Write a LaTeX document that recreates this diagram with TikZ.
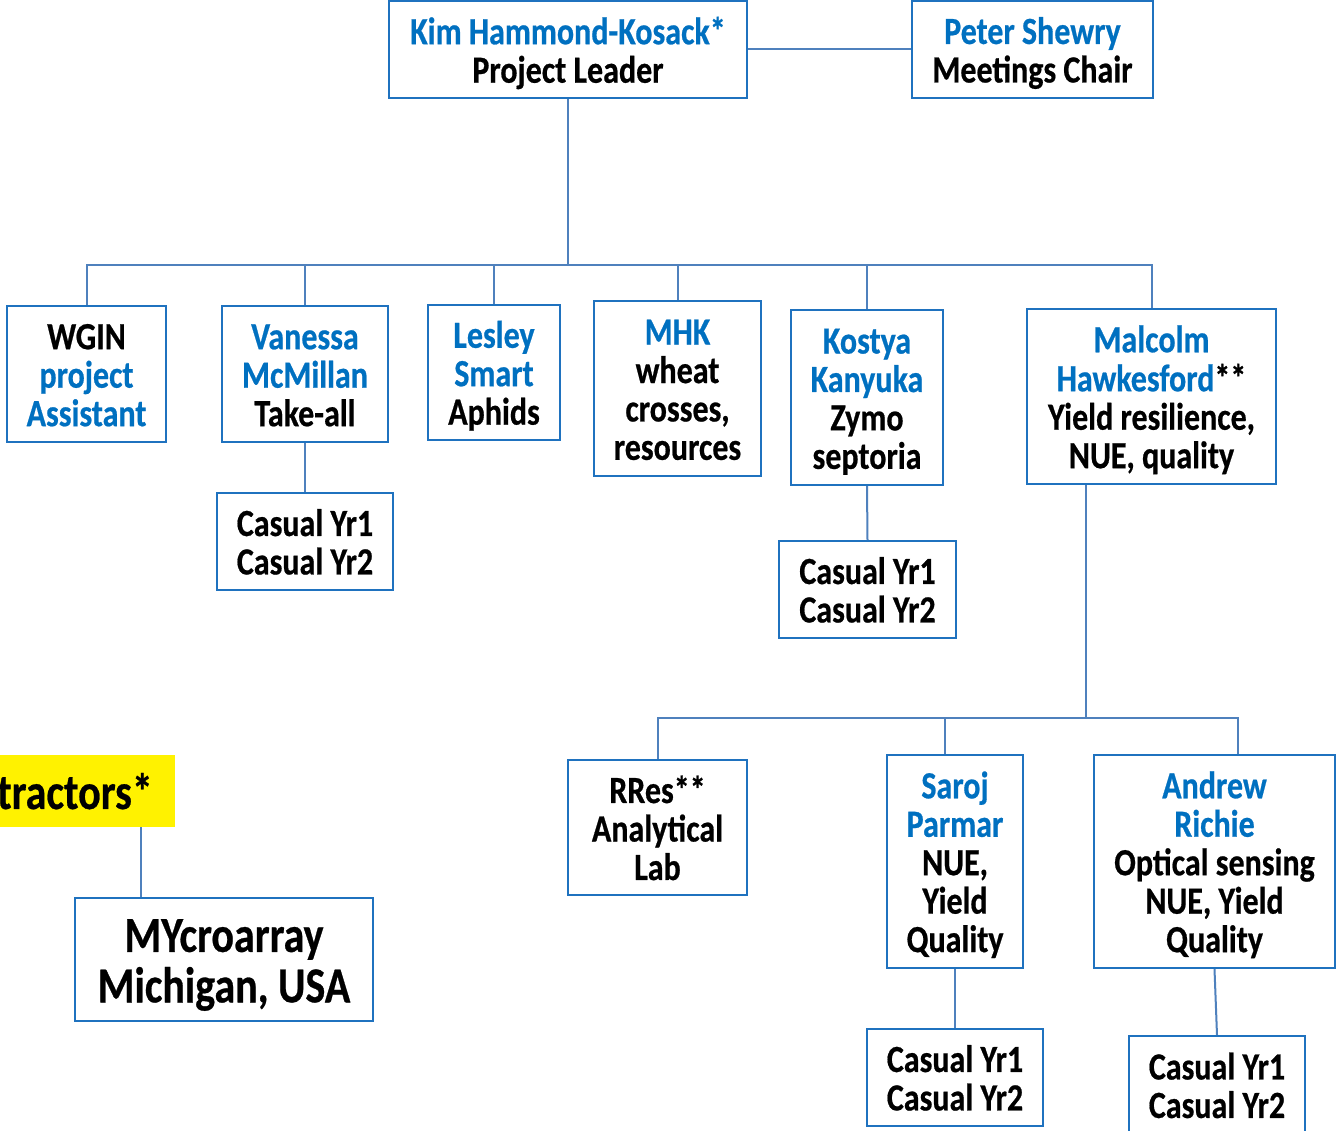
\documentclass[tikz,border=0pt]{standalone}
\usepackage{fontspec}
\usepackage{graphicx}
\setmainfont[BoldFeatures={FakeBold=0.6}]{Carlito}
\definecolor{nameblue}{HTML}{0070C0}
\definecolor{boxblue}{HTML}{1F72BF}
\definecolor{linkblue}{HTML}{4F81BD}
\newcommand{\nm}[1]{\textcolor{nameblue}{#1}}
\newcommand{\tx}[1]{\scalebox{1}[1.2]{\fontsize{24}{24}\selectfont\bfseries\raisebox{0pt}[\dimexpr\height+7.5pt\relax][\depth]{\begin{tabular}{@{}c@{}}#1\end{tabular}}}}
\newcommand{\txbig}[1]{\scalebox{1}[1.2]{\fontsize{31.5}{31.5}\selectfont\bfseries\raisebox{0pt}[\dimexpr\height+9.4pt\relax][\depth]{\begin{tabular}{@{}c@{}}#1\end{tabular}}}}
\tikzset{
  bx/.style 2 args={draw=boxblue, line width=1.5pt, fill=white, inner sep=0pt,
    minimum width=#1*0.75pt, minimum height=#2*0.75pt, text=black},
  link/.style={draw=linkblue, line width=1.5pt}
}
\begin{document}
\begin{tikzpicture}[x=0.75pt,y=-0.75pt]
\useasboundingbox (0,0) rectangle (1336,1131);
\clip (0,0) rectangle (1336,1131);
\fill[white] (0,0) rectangle (1336,1131);

% top row
\node[bx={358}{97}] (khk) at (568,49.5) {\tx{\nm{Kim Hammond-Kosack*}\\Project Leader}};
\node[bx={241}{97}] (peter) at (1032.5,49.5) {\tx{\nm{Peter Shewry}\\Meetings Chair}};

% second row
\node[bx={159}{136}] (wgin) at (86.5,374) {\tx{WGIN\\\nm{project}\\\nm{Assistant}}};
\node[bx={166}{136}] (van) at (305,374) {\tx{\nm{Vanessa}\\\nm{McMillan}\\Take-all}};
\node[bx={132}{135}] (les) at (494,372.5) {\tx{\nm{Lesley}\\\nm{Smart}\\Aphids}};
\node[bx={167}{175}] (mhk) at (677.5,388.5) {\tx{\nm{MHK}\\wheat\\crosses,\\resources}};
\node[bx={152}{175}] (kos) at (867,397.5) {\tx{\nm{Kostya}\\\nm{Kanyuka}\\Zymo\\septoria}};
\node[bx={249}{175}] (mal) at (1151.5,396.5) {\tx{\nm{Malcolm}\\\nm{Hawkesford}**\\Yield resilience,\\NUE, quality}};

% casuals
\node[bx={176}{97}] (vanc) at (305,541.5) {\tx{Casual Yr1\\Casual Yr2}};
\node[bx={177}{97}] (kosc) at (867.5,589.5) {\tx{Casual Yr1\\Casual Yr2}};

% third row
\node[bx={179}{135}] (rres) at (657.5,827.5) {\tx{RRes**\\Analytical\\Lab}};
\node[bx={136}{213}] (sar) at (955,861.5) {\tx{\nm{Saroj}\\\nm{Parmar}\\NUE,\\Yield\\Quality}};
\node[bx={241}{213}] (and) at (1214.5,861.5) {\tx{\nm{Andrew}\\\nm{Richie}\\Optical sensing\\NUE, Yield\\Quality}};
\node[bx={176}{97}] (sarc) at (955,1077.5) {\tx{Casual Yr1\\Casual Yr2}};
\node[bx={176}{98}] (andc) at (1217,1085) {\tx{Casual Yr1\\Casual Yr2}};

% subcontractors
\node[fill=yellow, inner xsep=16.5pt, inner ysep=0pt, minimum height=54pt, anchor=east] (sub) at (175,791) {\txbig{Subcontractors*}};
\node[bx={298}{123}] (my) at (224,959.5) {\txbig{MYcroarray\\Michigan, USA}};

% connectors
\coordinate (bus) at (568,265);
\coordinate (bus2) at (1086,718);
\draw[link] (khk.east) -- (peter.west);
\draw[link] (khk.south) -- (bus);
\foreach \n in {wgin,van,les,mhk,kos,mal} \draw[link] (\n.north) |- (bus);
\draw[link] (van.south) -- (vanc.north);
\draw[link] (kos.south) -- (kosc.north);
\draw[link] (mal.south -| bus2) -- (bus2);
\draw[link] (rres.north) |- (bus2);
\draw[link] ([xshift=-7.5pt]sar.north) |- (bus2);
\draw[link] ([xshift=17.6pt]and.north) |- (bus2);
\draw[link] (sar.south) -- (sarc.north);
\draw[link] (and.south) -- (andc.north);
\draw[link] ([xshift=-25.5pt]sub.south east) -- ([xshift=-25.5pt]sub.south east |- my.north);
\end{tikzpicture}
\end{document}
